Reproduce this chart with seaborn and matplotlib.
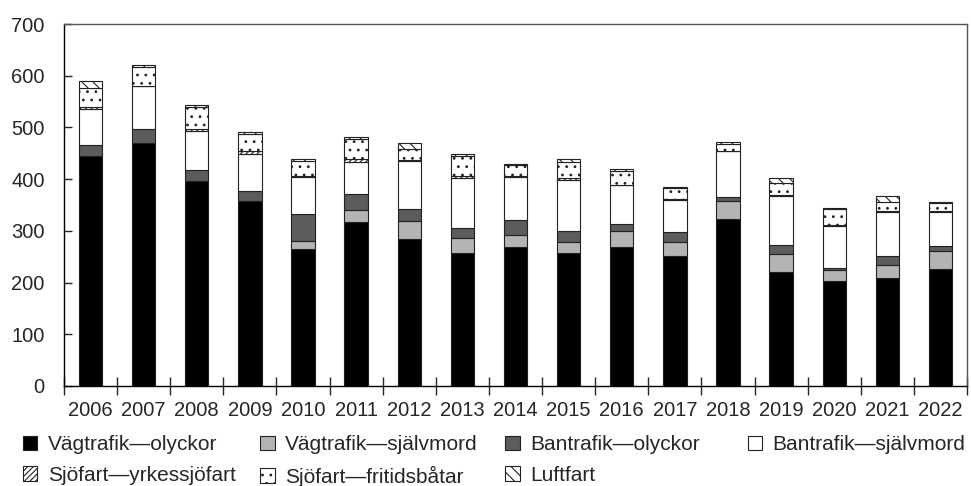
import matplotlib
matplotlib.use("Agg")
import matplotlib.pyplot as plt
import seaborn as sns
import numpy as np
import pandas as pd
from matplotlib.patches import Patch

# === Data ===
years = [str(y) for y in range(2006, 2023)]
vag_olyckor = [445, 470, 396, 357, 264, 318, 284, 258, 269, 258, 269, 251, 322, 220, 203, 209, 226]
vag_sjalvmord = [0, 0, 0, 0, 16, 22, 35, 28, 23, 21, 30, 27, 35, 35, 21, 25, 35]
ban_olyckor = [21, 26, 21, 21, 53, 31, 23, 20, 29, 21, 14, 19, 9, 18, 5, 17, 9]
ban_sjalvmord = [70, 84, 76, 70, 72, 63, 94, 97, 83, 99, 75, 63, 88, 95, 81, 86, 67]
sjo_yrkes = [4, 1, 3, 6, 1, 4, 1, 3, 3, 4, 1, 1, 1, 1, 1, 2, 1]
sjo_fritid = [37, 36, 44, 34, 30, 39, 22, 39, 21, 31, 27, 22, 13, 24, 31, 16, 15]
luftfart = [12, 3, 4, 3, 2, 4, 11, 3, 1, 4, 3, 2, 4, 9, 2, 12, 2]

labels = ["Vägtrafik—olyckor", "Vägtrafik—självmord", "Bantrafik—olyckor",
          "Bantrafik—självmord", "Sjöfart—yrkessjöfart", "Sjöfart—fritidsbåtar",
          "Luftfart"]
series = [vag_olyckor, vag_sjalvmord, ban_olyckor, ban_sjalvmord,
          sjo_yrkes, sjo_fritid, luftfart]
styles = [
    dict(color="black", hatch=None),
    dict(color="#b4b4b4", hatch=None),
    dict(color="#5c5c5c", hatch=None),
    dict(color="white", hatch=None),
    dict(color="white", hatch="//////"),
    dict(color="white", hatch=".."),
    dict(color="white", hatch="\\\\\\"),
]

sns.set_style("white")
plt.rcParams["font.family"] = ["Liberation Sans", "DejaVu Sans"]
plt.rcParams["hatch.linewidth"] = 0.8

fig = plt.figure(figsize=(9.71, 4.86), dpi=100)
ax = fig.add_axes([0.0659, 0.2058, 0.93, 0.7448])

bottom = np.zeros(len(years))
for lab, vals, st in zip(labels, series, styles):
    df = pd.DataFrame({"year": years, "value": vals})
    sns.barplot(data=df, x="year", y="value", order=years, ax=ax,
                color=st["color"], hatch=st["hatch"], edgecolor="#222222",
                linewidth=0.8, width=0.44, errorbar=None, bottom=bottom,
                saturation=1)
    bottom += np.array(vals)

# === Ejes ===
ax.set_ylim(0, 700)
ax.set_xlim(-0.5, len(years) - 0.5)
ax.set_yticks(range(0, 701, 100))
ax.set_xlabel("")
ax.set_ylabel("")
ax.tick_params(axis="y", direction="in", length=6, width=1, labelsize=14.5,
               pad=14, left=True)
ax.tick_params(axis="x", which="major", length=0, labelsize=14.5, pad=11)
ax.set_xticks(np.arange(-0.5, len(years), 1), minor=True)
ax.tick_params(axis="x", which="minor", direction="inout", length=13, width=1,
               bottom=True)
for side in ["left", "bottom"]:
    ax.spines[side].set_color("black")
    ax.spines[side].set_linewidth(1)
for side in ["top", "right"]:
    ax.spines[side].set_color("#555555")
    ax.spines[side].set_linewidth(1)
    ax.spines[side].set_visible(True)

# === Leyenda (4 columnas) ===
handles = [Patch(facecolor=st["color"], hatch=st["hatch"], edgecolor="#222222",
                 linewidth=0.8, label=lab) for lab, st in zip(labels, styles)]
col_items = [[0, 4], [1, 5], [2, 6], [3]]
col_x = [0.0234, 0.2678, 0.520, 0.770]
for xs, items in zip(col_x, col_items):
    fig.legend(handles=[handles[i] for i in items], loc="upper left",
               bbox_to_anchor=(xs, 0.104), frameon=False, fontsize=15,
               handlelength=0.7, handleheight=0.7, handletextpad=0.5,
               labelspacing=0.55, borderpad=0, borderaxespad=0)

fig.savefig("out.png", dpi=100)
